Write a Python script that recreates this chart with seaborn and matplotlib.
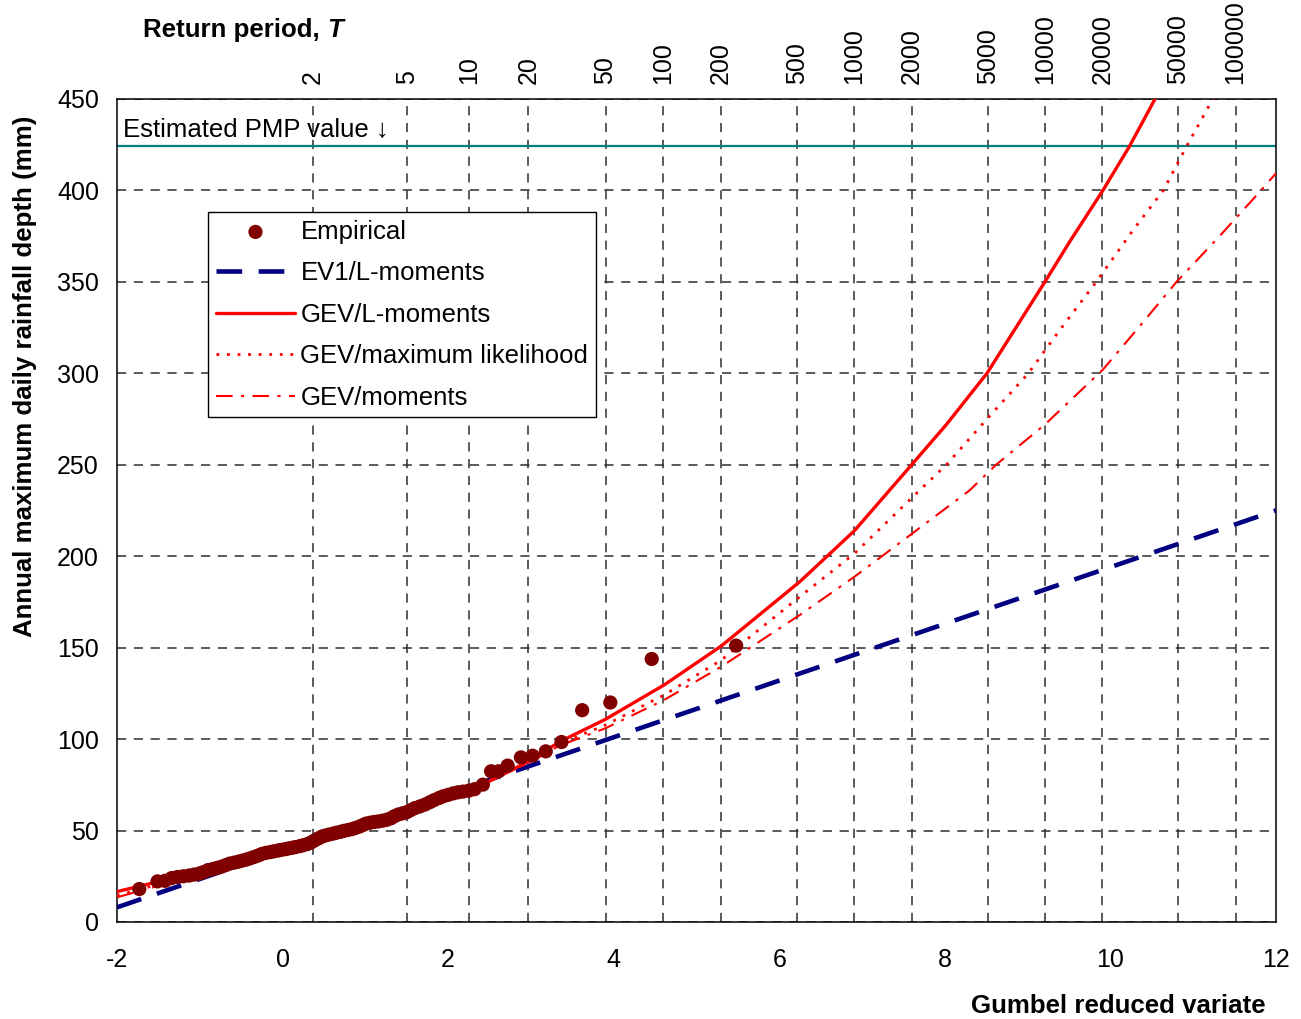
import matplotlib
matplotlib.use('Agg')
import numpy as np
import pandas as pd
import matplotlib.pyplot as plt
import seaborn as sns

# ---------------------------
# Data
# ---------------------------
emp_x = [-1.73, -1.51, -1.42, -1.34, -1.27, -1.20, -1.13, -1.07, -1.01, -0.96,
         -0.90, -0.84, -0.79, -0.74, -0.69, -0.64, -0.59, -0.54, -0.49, -0.44,
         -0.39, -0.34, -0.29, -0.25, -0.20, -0.15, -0.11, -0.06, -0.02, 0.03,
         0.07, 0.12, 0.16, 0.21, 0.25, 0.30, 0.34, 0.38, 0.43, 0.47,
         0.51, 0.56, 0.61, 0.65, 0.70, 0.74, 0.79, 0.84, 0.88, 0.93,
         0.97, 1.01, 1.06, 1.11, 1.16, 1.21, 1.26, 1.31, 1.35, 1.40,
         1.45, 1.50, 1.55, 1.60, 1.66, 1.72, 1.78, 1.83, 1.89, 1.94,
         2.00, 2.06, 2.12, 2.18, 2.25, 2.32, 2.42, 2.52, 2.61, 2.72,
         2.88, 3.02, 3.18, 3.37, 3.62, 3.96, 4.46, 5.48]
emp_y = [18.0, 22.2, 22.5, 24.0, 24.6, 25.0, 25.4, 25.9, 26.4, 27.2,
         28.4, 29.0, 29.6, 30.2, 31.0, 31.9, 32.4, 32.9, 33.5, 34.1,
         34.8, 35.6, 36.4, 37.2, 37.8, 38.2, 38.6, 39.0, 39.4, 39.8,
         40.2, 40.6, 41.0, 41.5, 42.0, 42.6, 43.4, 44.4, 45.6, 46.6,
         47.2, 47.8, 48.3, 48.8, 49.3, 49.8, 50.3, 50.8, 51.4, 52.2,
         53.0, 53.8, 54.3, 54.7, 55.0, 55.4, 55.9, 56.7, 57.8, 58.8,
         59.4, 60.0, 61.2, 62.3, 63.2, 64.2, 65.5, 66.6, 67.8, 68.7,
         69.5, 70.3, 70.9, 71.3, 71.8, 72.6, 75.1, 82.4, 82.4, 85.5,
         90.0, 90.9, 93.3, 98.4, 115.8, 120.0, 143.8, 151.1]

ev1_x = [-2, 12]
ev1_y = [8, 225]

gev_lm_x = [-2, -1, 0, 1, 2, 2.5, 3, 3.35, 3.9, 4.61, 5.3, 6.25, 6.91, 7.6,
            8.02, 8.51, 9.21, 9.51, 9.91, 10.23, 10.6]
gev_lm_y = [16.6, 27.5, 40, 53, 67.5, 77, 88.5, 98.6, 110.8, 129.6, 150.9, 186.1,
            214, 250, 272, 300, 350, 372, 400, 424, 455]

gev_ml_x = [-2, -1, 0, 1, 2, 2.5, 3, 3.35, 3.9, 4.61, 5.3, 6.25, 6.91, 7.7,
            8.02, 8.5, 9.01, 9.39, 9.83, 10.27, 10.64, 10.92, 11.3]
gev_ml_y = [14.5, 26.5, 40, 53.5, 68, 77, 88, 97.5, 107.7, 124.1, 143.2, 177.9,
            201.5, 236.2, 250, 274.5, 300, 323.7, 350, 378, 400, 424, 455]

gev_mom_x = [-2, -1, 0, 1, 2, 2.5, 3, 3.35, 3.9, 4.61, 5.3, 6.25, 6.91, 7.61,
             8.3, 8.62, 9.21, 9.91, 10.36, 10.8, 11.32, 11.82, 12]
gev_mom_y = [13.5, 26, 40, 54, 68.5, 77, 87.5, 96.5, 105.9, 121.4, 139.6, 167.9,
             188.8, 212.5, 236, 250, 272, 302, 326, 350, 375, 400, 409.3]

return_periods = [2, 5, 10, 20, 50, 100, 200, 500, 1000, 2000, 5000,
                  10000, 20000, 50000, 100000]
pmp_value = 424

# ---------------------------
# Gumbel variate <-> return period
# ---------------------------
def to_T(x):
    x = np.asarray(x, dtype=float)
    with np.errstate(all='ignore'):
        return 1.0 / (1.0 - np.exp(-np.exp(-x)))

def to_x(T):
    T = np.maximum(np.asarray(T, dtype=float), 1.000001)
    with np.errstate(all='ignore'):
        return -np.log(-np.log(1.0 - 1.0 / T))

# ---------------------------
# Style
# ---------------------------
sns.set_style("white")
plt.rcParams['font.family'] = ['Liberation Sans', 'DejaVu Sans']
plt.rcParams['axes.unicode_minus'] = False
for key in ['text.color', 'axes.labelcolor', 'xtick.color', 'ytick.color']:
    plt.rcParams[key] = 'black'

fig = plt.figure(figsize=(13.01, 10.19), dpi=100)
ax = fig.add_axes([0.0899, 0.0952, 0.8908, 0.8077])

grid_kw = dict(color='#2e2e2e', linewidth=1.1, linestyle=(0, (6, 5)))

# ---------------------------
# Plot
# ---------------------------
sns.scatterplot(x=emp_x, y=emp_y, ax=ax, color='#800000', s=105,
                edgecolor='none', label='Empirical', zorder=4)
sns.lineplot(x=ev1_x, y=ev1_y, ax=ax, color='#000080', linewidth=3.3,
             linestyle=(0, (5.6, 3.6)), label='EV1/L-moments',
             estimator=None, sort=False, zorder=3)
sns.lineplot(x=gev_lm_x, y=gev_lm_y, ax=ax, color='#ff0000', linewidth=2.4,
             label='GEV/L-moments', estimator=None, sort=False, zorder=3)
sns.lineplot(x=gev_ml_x, y=gev_ml_y, ax=ax, color='#ff0000', linewidth=2.0,
             linestyle=(0, (1, 2.8)), label='GEV/maximum likelihood',
             estimator=None, sort=False, zorder=3)
sns.lineplot(x=gev_mom_x, y=gev_mom_y, ax=ax, color='#ff0000', linewidth=1.5,
             linestyle=(0, (8, 4, 1.5, 4)), label='GEV/moments',
             estimator=None, sort=False, zorder=3)

ax.axhline(pmp_value, color='#008080', linewidth=1.6, zorder=2)
ax.text(-1.93, 433, 'Estimated PMP value \u2193', fontsize=18.5, va='center',
        ha='left')

ax.set_xlim(-2, 12)
ax.set_ylim(0, 450)
ax.set_xticks(np.arange(-2, 13, 2))
ax.set_yticks(np.arange(0, 451, 50))
ax.set_xticks(to_x(return_periods), minor=True)
ax.set_xlabel('')
ax.set_ylabel('')

ax.grid(False)
ax.grid(True, which='minor', axis='x', **grid_kw)
ax.grid(True, which='major', axis='y', **grid_kw)
ax.set_axisbelow(True)

ax.tick_params(axis='both', which='major', direction='inout', length=12,
               width=1, color='black', labelsize=18)
ax.tick_params(axis='x', which='major', pad=13)
ax.tick_params(axis='y', which='major', pad=7)
ax.tick_params(axis='x', which='minor', length=0)
for s in ax.spines.values():
    s.set_color('black')
    s.set_linewidth(1.1)

# top axis with return periods
sec = ax.secondary_xaxis('top', functions=(to_T, to_x))
sec.set_xticks(return_periods)
sec.set_xticklabels([str(t) for t in return_periods], rotation=90)
sec.tick_params(axis='x', length=0, pad=11, labelsize=18)
sec.spines['top'].set_visible(False)
sec.xaxis.set_minor_locator(matplotlib.ticker.NullLocator())

# legend
leg = ax.legend(loc='upper left', bbox_to_anchor=(0.0785, 0.8627),
                borderaxespad=0, fontsize=18.5, frameon=True, fancybox=False,
                edgecolor='black', framealpha=1, handlelength=3.1,
                handletextpad=0.2, labelspacing=0.68, borderpad=0.3)
leg.get_frame().set_linewidth(1.0)

# axis titles
t1 = fig.text(0.11, 0.971, 'Return period,', fontsize=18.6, fontweight='bold',
              ha='left', va='center')
ax.annotate('T', xy=(1, 0.5), xycoords=t1, xytext=(5, 0),
            textcoords='offset points', fontsize=18.6, fontweight='bold',
            fontstyle='italic', ha='left', va='center',
            annotation_clip=False)
fig.text(0.973, 0.0125, 'Gumbel reduced variate', fontsize=18.6,
         fontweight='bold', ha='right', va='center')
fig.text(0.0195, 0.631, 'Annual maximum daily rainfall depth (mm)',
         fontsize=18.6, fontweight='bold', rotation=90,
         ha='center', va='center')

fig.savefig('out.png', dpi=100)
plt.close(fig)
